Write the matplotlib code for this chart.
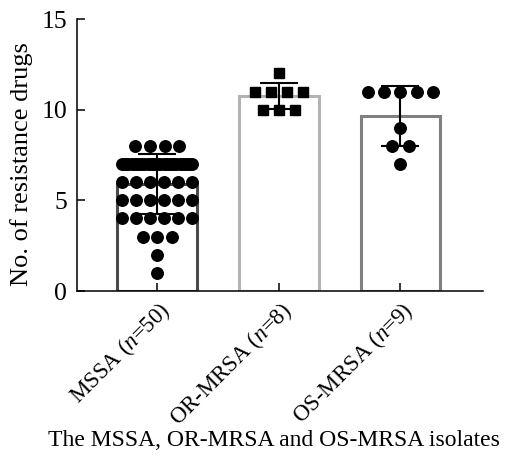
import numpy as np
import matplotlib
matplotlib.use("Agg")
import matplotlib.pyplot as plt

plt.rcParams["font.family"] = ["Liberation Serif", "DejaVu Serif"]
plt.rcParams["mathtext.fontset"] = "custom"
plt.rcParams["mathtext.rm"] = "Liberation Serif"
plt.rcParams["mathtext.it"] = "Liberation Serif:italic"

groups = ["MSSA ($n$=50)", "OR-MRSA ($n$=8)", "OS-MRSA ($n$=9)"]

# number of resistance drugs per isolate: value levels and how many isolates at each
mssa_levels = [8, 7, 6, 5, 4, 3, 2, 1]
mssa_counts = [4, 23, 6, 6, 6, 3, 1, 1]
or_levels = [12, 11, 10]
or_counts = [1, 4, 3]
os_levels = [11, 9, 8, 7]
os_counts = [5, 1, 2, 1]

edge_colors = ["#4a4a4a", "#b3b3b3", "#808080"]
markers = ["o", "s", "o"]
msizes = [8.3, 7.2, 8.3]
spacing = [0.12, 0.132, 0.135]

data = [(mssa_levels, mssa_counts), (or_levels, or_counts), (os_levels, os_counts)]

fig = plt.figure(figsize=(5.1, 4.57), dpi=100)
ax = fig.add_axes([77 / 510, 1 - 291 / 457, 406 / 510, 272 / 457])

for i, (levels, counts) in enumerate(data):
    vals = np.repeat(levels, counts)
    mean = vals.mean()
    sd = vals.std(ddof=1)
    ax.bar(i, mean, width=0.655, facecolor="white", edgecolor=edge_colors[i],
           linewidth=2.2, zorder=1)
    ax.errorbar(i, mean, yerr=sd, color="black", linewidth=1.5, capsize=14,
                capthick=1.5, zorder=2)
    for lv, c in zip(levels, counts):
        offs = (np.arange(c) - (c - 1) / 2) * spacing[i]
        if c > 1 and offs[-1] > 0.29:
            offs = np.linspace(-0.29, 0.29, c)
        ax.plot(i + offs, np.full(c, lv), linestyle="none", marker=markers[i],
                markersize=msizes[i], color="black", zorder=3, clip_on=False)

ax.set_xlim(-0.66, 2.68)
ax.set_ylim(0, 15)
ax.set_yticks([0, 5, 10, 15])
ax.set_xticks(range(3))
ax.set_xticklabels(groups, rotation=45, ha="right", va="top",
                   rotation_mode="anchor", fontsize=16.5)
ax.tick_params(axis="both", direction="in", length=5.5, width=1.1, pad=5)
ax.tick_params(axis="y", labelsize=18.5, pad=7)
for s in ["top", "right"]:
    ax.spines[s].set_visible(False)
for s in ["left", "bottom"]:
    ax.spines[s].set_linewidth(1.1)

ax.set_ylabel("No. of resistance drugs", fontsize=19)
ax.yaxis.set_label_coords(-0.108, 0.467)
ax.set_xlabel("The MSSA, OR-MRSA and OS-MRSA isolates", fontsize=17)
ax.xaxis.set_label_coords(0.484, -0.512)

fig.savefig("out.png", dpi=100)
